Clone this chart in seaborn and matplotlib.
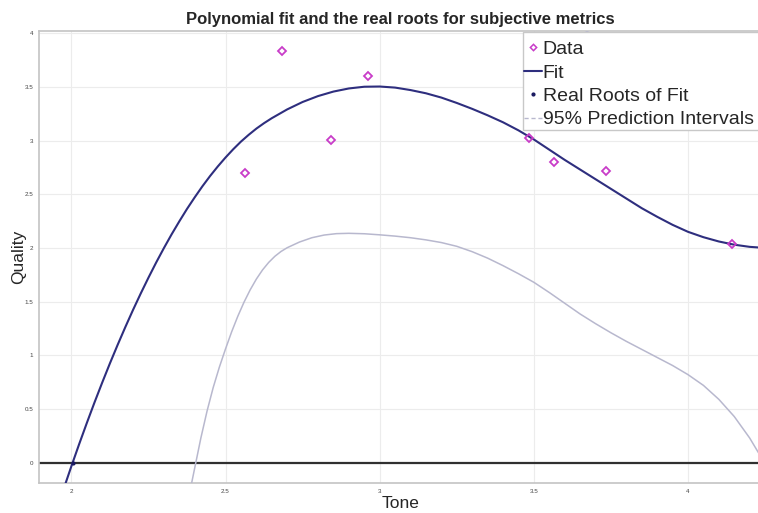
import matplotlib
matplotlib.use("Agg")
import matplotlib.pyplot as plt
from matplotlib.lines import Line2D
import seaborn as sns
import pandas as pd

# ---- data ----
tone_data = [2.562, 2.683, 2.842, 2.963, 3.485, 3.564, 3.735, 4.143]
quality_data = [2.70, 3.83, 3.007, 3.60, 3.026, 2.797, 2.719, 2.036]

fit_x = [1.950, 1.975, 2.000, 2.025, 2.050, 2.075, 2.100, 2.125, 2.150, 2.175,
         2.200, 2.225, 2.250, 2.275, 2.300, 2.325, 2.350, 2.375, 2.400, 2.425,
         2.450, 2.475, 2.500, 2.525, 2.550, 2.575, 2.600, 2.625, 2.650, 2.700,
         2.750, 2.800, 2.850, 2.900, 2.950, 3.000, 3.050, 3.100, 3.150, 3.200,
         3.250, 3.300, 3.350, 3.400, 3.450, 3.500, 3.550, 3.600, 3.650, 3.700,
         3.750, 3.800, 3.850, 3.900, 3.950, 4.000, 4.050, 4.100, 4.150, 4.200,
         4.250]
fit_y = [-0.461, -0.244, -0.033, 0.171, 0.369, 0.561, 0.746, 0.925, 1.097, 1.263,
         1.423, 1.576, 1.723, 1.864, 1.998, 2.126, 2.247, 2.363, 2.471, 2.574,
         2.670, 2.759, 2.842, 2.919, 2.990, 3.053, 3.111, 3.162, 3.208, 3.290,
         3.359, 3.414, 3.456, 3.485, 3.501, 3.503, 3.493, 3.470, 3.440, 3.400,
         3.350, 3.295, 3.235, 3.170, 3.095, 3.010, 2.915, 2.820, 2.730, 2.640,
         2.550, 2.460, 2.370, 2.290, 2.215, 2.150, 2.100, 2.060, 2.030, 2.010,
         2.000]

lower_x = [2.38, 2.40, 2.42, 2.44, 2.46, 2.48, 2.50, 2.52, 2.54, 2.56, 2.58, 2.60,
           2.62, 2.64, 2.66, 2.68, 2.70, 2.74, 2.78, 2.82, 2.86, 2.90, 2.95, 3.00,
           3.05, 3.10, 3.15, 3.20, 3.25, 3.30, 3.35, 3.40, 3.45, 3.50, 3.55, 3.60,
           3.65, 3.70, 3.75, 3.80, 3.85, 3.90, 3.95, 4.00, 4.05, 4.10, 4.15, 4.20, 4.25]
lower_y = [-0.33, -0.05, 0.23, 0.48, 0.70, 0.89, 1.06, 1.22, 1.365, 1.495, 1.61, 1.71,
           1.795, 1.865, 1.922, 1.967, 2.002, 2.055, 2.095, 2.12, 2.133, 2.136, 2.132, 2.122,
           2.11, 2.095, 2.075, 2.05, 2.015, 1.965, 1.905, 1.835, 1.76, 1.68, 1.585, 1.485,
           1.385, 1.295, 1.21, 1.13, 1.055, 0.98, 0.905, 0.82, 0.72, 0.59, 0.43, 0.23, -0.01]

upper_x = [3.50, 3.60, 3.67, 3.75, 3.90, 4.00, 4.10, 4.20, 4.25]
upper_y = [4.45, 4.17, 4.02, 3.88, 3.62, 3.47, 3.50, 3.75, 3.95]

root_x = [2.004]
root_y = [0.0]

x_ticks = [2, 2.5, 3, 3.5, 4]
x_tick_labels = ["2", "2.5", "3", "3.5", "4"]
y_ticks = [0, 0.5, 1, 1.5, 2, 2.5, 3, 3.5, 4]
y_tick_labels = ["0", "0.5", "1", "1.5", "2", "2.5", "3", "3.5", "4"]

# ---- style ----
sns.set_style("white")
plt.rcParams["font.family"] = ["Liberation Sans", "DejaVu Sans"]

fit_color = "#2e2e7e"
pi_color = "#b8b8ce"
data_color = "#c83cc8"

fig = plt.figure(figsize=(7.58, 5.13), dpi=100)
ax_w = (762 - 39) / 758
ax = fig.add_axes([39 / 758, 30 / 513, ax_w, (483 - 31) / 513])

df_fit = pd.DataFrame({"Tone": fit_x, "Quality": fit_y})
df_low = pd.DataFrame({"Tone": lower_x, "Quality": lower_y})
df_up = pd.DataFrame({"Tone": upper_x, "Quality": upper_y})
df_data = pd.DataFrame({"Tone": tone_data, "Quality": quality_data})
df_root = pd.DataFrame({"Tone": root_x, "Quality": root_y})

ax.axhline(0, color="#303030", lw=1.6, zorder=2)
sns.lineplot(data=df_low, x="Tone", y="Quality", ax=ax, color=pi_color, lw=1.1,
             estimator=None, sort=False, zorder=3)
sns.lineplot(data=df_up, x="Tone", y="Quality", ax=ax, color=pi_color, lw=1.1,
             estimator=None, sort=False, zorder=3)
sns.lineplot(data=df_fit, x="Tone", y="Quality", ax=ax, color=fit_color, lw=1.5,
             estimator=None, sort=False, zorder=4)
ax.plot(df_data["Tone"], df_data["Quality"], ls="none", marker="D", ms=4.2,
        mfc="none", mec=data_color, mew=1.3, zorder=5)
ax.plot(df_root["Tone"], df_root["Quality"], ls="none", marker=".", ms=4,
        color="#1a1a60", zorder=6)

ax.set_xlim(1.895, 4.24)
ax.set_ylim(-0.189, 4.02)
ax.set_xticks(x_ticks)
ax.set_xticklabels(x_tick_labels)
ax.set_yticks(y_ticks)
ax.set_yticklabels(y_tick_labels)
ax.grid(True, color="#ececec", lw=0.8)
ax.set_axisbelow(True)
for s in ax.spines.values():
    s.set_color("#c4c4c4")
    s.set_linewidth(1.2)
ax.tick_params(direction="in", length=3, width=0.8, color="#a0a0a0",
               labelsize=4.5, labelcolor="#444444", pad=4)
ax.tick_params(axis="both", which="both", top=False, right=False)

ax.set_xlabel("Tone", fontsize=12.5, labelpad=2)
ax.set_ylabel("Quality", fontsize=12.5)
ax.yaxis.set_label_coords(-0.018, 0.5)
ax.set_title("Polynomial fit and the real roots for subjective metrics",
             fontsize=12, fontweight="bold", pad=5)

handles = [
    Line2D([], [], ls="none", marker="D", ms=3.2, mfc="none", mec=data_color, mew=1.1),
    Line2D([], [], color=fit_color, lw=1.5),
    Line2D([], [], ls="none", marker=".", ms=4, color="#1a1a60"),
    Line2D([], [], color=pi_color, lw=1.0, ls=(0, (3, 2))),
]
labels = ["Data", "Fit", "Real Roots of Fit", "95% Prediction Intervals"]
leg_x0 = (523 - 39) / (762 - 39)
leg_w = (800 - 523) / (762 - 39)
leg = ax.legend(handles, labels, loc="upper left",
                bbox_to_anchor=(leg_x0, 0.0, leg_w, 0.997), mode="expand",
                fontsize=14, frameon=True, fancybox=False, framealpha=1,
                edgecolor="#c8c8c8", handlelength=0.9, handletextpad=0.05,
                labelspacing=0.3, borderpad=0.07, borderaxespad=0.0,
                title=" ", title_fontsize=1)
leg.get_frame().set_linewidth(1.0)
leg.set_zorder(10)

fig.savefig("out.png", dpi=100)
